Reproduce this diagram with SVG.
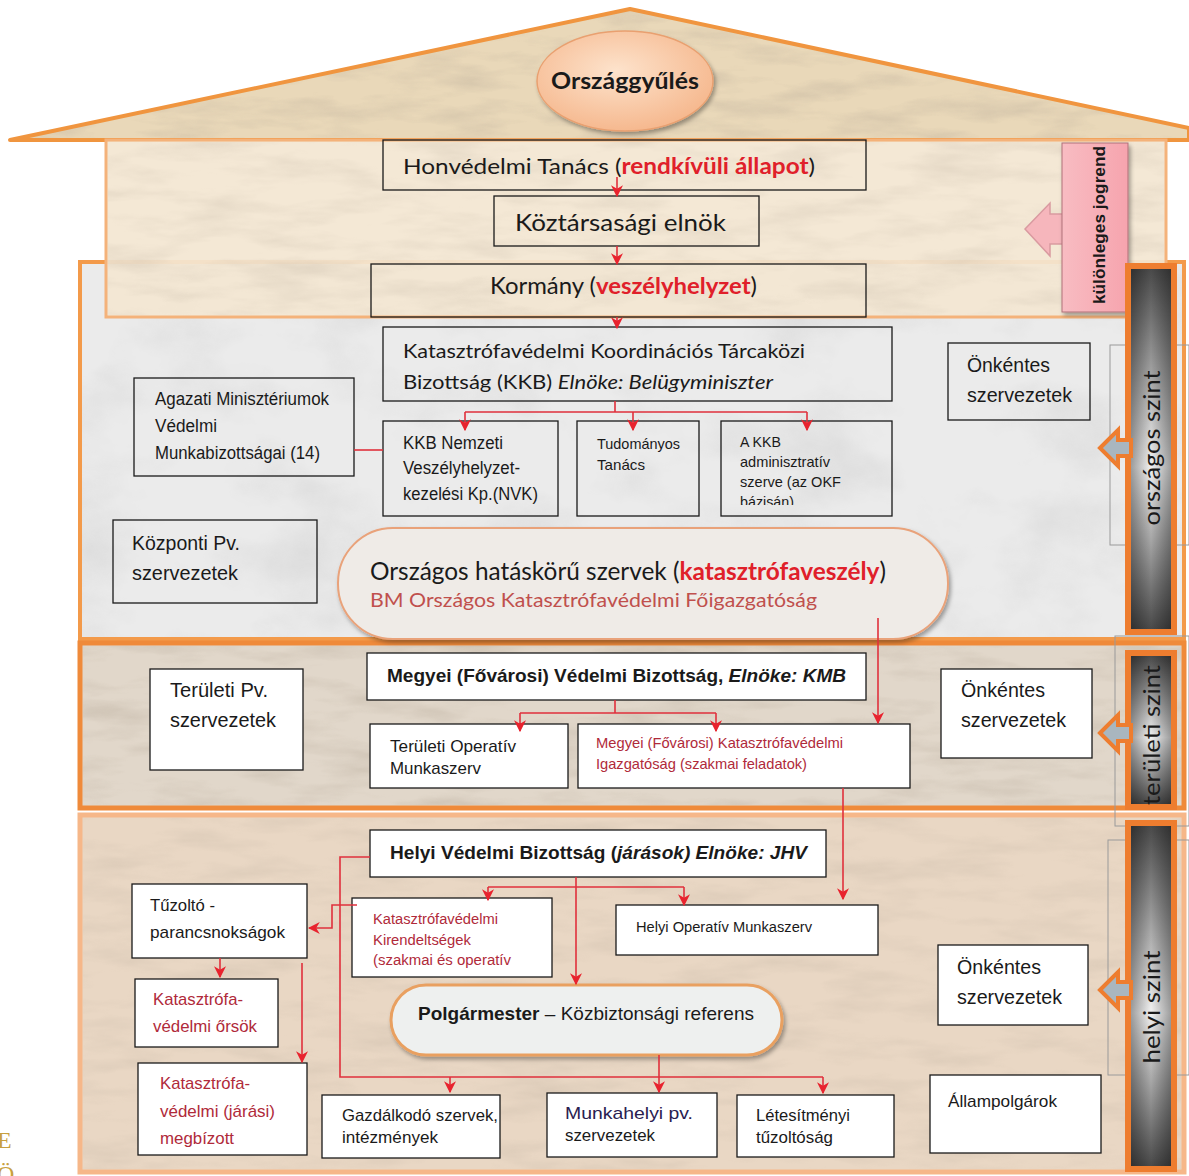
<svg xmlns="http://www.w3.org/2000/svg" width="1189" height="1176" viewBox="0 0 1189 1176">
<defs>
<style>
.bx{stroke:#1a1a1a;stroke-width:1.3;}
.wb{fill:#ffffff;}
.tb{fill:none;}
.cal{font-family:Lato,"Open Sans","Liberation Sans",sans-serif;fill:#1a1a1a;}
.ar{font-family:"Liberation Sans",Arial,sans-serif;fill:#1a1a1a;}
.red{fill:#e0202a;font-weight:bold;}
.dred{fill:#b02a3a;}
.con{fill:none;stroke:#e0303c;stroke-width:1.6;}
.conA{fill:none;stroke:#e0303c;stroke-width:1.6;marker-end:url(#ah);}
.lvl{fill:#a9b6bf;stroke:#ee7d2f;stroke-width:4;stroke-linejoin:miter;}
.thin{fill:none;stroke:#9a9a9a;stroke-width:1;}
</style>
<marker id="ah" viewBox="0 0 10 10" refX="9" refY="5" markerWidth="12" markerHeight="12" markerUnits="userSpaceOnUse" orient="auto">
<path d="M0,0 L10,5 L0,10 L3,5 Z" fill="#e8232e"/>
</marker>
<clipPath id="roofclip"><polygon points="10,140 630,9 1189,128 1189,140"/></clipPath>
<filter id="tex" x="0" y="0" width="1" height="1">
<feTurbulence type="fractalNoise" baseFrequency="0.012 0.05" numOctaves="4" seed="7" result="n"/>
<feColorMatrix in="n" type="matrix" values="0 0 0 0 0.45  0 0 0 0 0.38  0 0 0 0 0.3  1.4 0 0 0 -0.6"/>
</filter>
<filter id="marb" x="0" y="0" width="1" height="1">
<feTurbulence type="fractalNoise" baseFrequency="0.008 0.012" numOctaves="5" seed="3" result="n"/>
<feColorMatrix in="n" type="matrix" values="0 0 0 0 0.5  0 0 0 0 0.5  0 0 0 0 0.5  1.6 0 0 0 -0.75"/>
</filter>
<filter id="sh" x="-5%" y="-5%" width="115%" height="120%">
<feDropShadow dx="2" dy="3" stdDeviation="2" flood-color="#000" flood-opacity="0.35"/>
</filter>
<linearGradient id="bar" x1="0" y1="0" x2="0" y2="1">
<stop offset="0" stop-color="#4a4a4a"/>
<stop offset="0.55" stop-color="#f2f2f2"/>
<stop offset="1" stop-color="#4a4a4a"/>
</linearGradient>
<linearGradient id="barH" x1="0" y1="0" x2="1" y2="0">
<stop offset="0" stop-color="#000" stop-opacity="0.35"/>
<stop offset="0.5" stop-color="#000" stop-opacity="0"/>
<stop offset="1" stop-color="#000" stop-opacity="0.35"/>
</linearGradient>
<linearGradient id="pink" x1="0" y1="0" x2="1" y2="0">
<stop offset="0" stop-color="#f8bcc2"/>
<stop offset="1" stop-color="#f6a4ae"/>
</linearGradient>
<radialGradient id="oval" cx="0.45" cy="0.4" r="0.65">
<stop offset="0" stop-color="#fde3cc"/>
<stop offset="1" stop-color="#f5b58a"/>
</radialGradient>
</defs>

<g id="background">
<polygon points="10,140 630,9 1189,128 1189,140" fill="#e9d8b9"/>
<g clip-path="url(#roofclip)"><rect x="10" y="9" width="1179" height="131" filter="url(#tex)" opacity="0.55"/></g>
<polygon points="10,140 630,9 1189,128 1189,140" fill="none" stroke="#f0953f" stroke-width="4" stroke-linejoin="round"/>
<rect x="80" y="262" width="1104" height="377" fill="#ebebeb" stroke="#f39a4a" stroke-width="4"/>
<rect x="82" y="264" width="1100" height="373" filter="url(#marb)" opacity="0.45"/>
<rect x="106" y="140" width="1060" height="177" fill="#f3e6d2" fill-opacity="0.93" stroke="#f4b27a" stroke-width="3"/>
<rect x="108" y="142" width="1056" height="173" filter="url(#tex)" opacity="0.35"/>
<rect x="80" y="643" width="1104" height="165" fill="#e1d7ca" stroke="#ef8a3a" stroke-width="5"/>
<rect x="83" y="646" width="1098" height="159" filter="url(#tex)" opacity="0.55"/>
<rect x="80" y="815" width="1104" height="357" fill="#e9d7c4" stroke="#f6b789" stroke-width="5"/>
<rect x="83" y="818" width="1098" height="351" filter="url(#tex)" opacity="0.35"/>
<text x="-3" y="1148" font-family="'Liberation Serif',serif" font-size="24" fill="#c8a040">E</text>
<text x="-3" y="1182" font-family="'Liberation Serif',serif" font-size="24" fill="#c8a040">Ö</text>
</g>

<g id="n-orszaggyules">
<ellipse cx="625" cy="81" rx="88" ry="50" fill="url(#oval)" stroke="#e9a070" stroke-width="1.5" filter="url(#sh)"/>
<text x="625" y="89" text-anchor="middle" class="cal" font-size="23" font-weight="bold" textLength="148" lengthAdjust="spacingAndGlyphs">Országgyűlés</text>
</g>

<g id="n-kulonleges">
<polygon points="1025,229 1050,203 1050,214 1063,214 1063,244 1050,244 1050,256" fill="#f6b6bc" stroke="#d99aa0" stroke-width="1.5"/>
<rect x="1062" y="143" width="66" height="169" fill="url(#pink)" stroke="#b07078" stroke-width="1" filter="url(#sh)"/>
<text transform="translate(1105,225) rotate(-90)" text-anchor="middle" class="ar" font-size="17" font-weight="bold" textLength="158" lengthAdjust="spacingAndGlyphs">különleges jogrend</text>
</g>

<g id="n-orszagos-szint">
<rect x="1110" y="345" width="79" height="200" class="thin"/>
<rect x="1125" y="263" width="52" height="372" fill="#ee7d2f"/>
<rect x="1131" y="269" width="40" height="360" fill="url(#bar)"/>
<rect x="1131" y="269" width="40" height="360" fill="url(#barH)"/>
<polygon points="1100,448 1118,430 1118,440 1131,440 1131,456 1118,456 1118,466" class="lvl"/>
<text transform="translate(1160,448) rotate(-90)" text-anchor="middle" class="cal" font-size="23" textLength="155" lengthAdjust="spacingAndGlyphs">országos szint</text>
</g>

<g id="n-teruleti-szint">
<rect x="1115" y="636" width="74" height="190" class="thin"/>
<rect x="1125" y="650" width="52" height="160" fill="#ee7d2f"/>
<rect x="1131" y="656" width="40" height="148" fill="url(#bar)"/>
<rect x="1131" y="656" width="40" height="148" fill="url(#barH)"/>
<polygon points="1100,733 1118,715 1118,725 1131,725 1131,741 1118,741 1118,751" class="lvl"/>
<text transform="translate(1160,735) rotate(-90)" text-anchor="middle" class="cal" font-size="23" textLength="140" lengthAdjust="spacingAndGlyphs">területi szint</text>
</g>

<g id="n-helyi-szint">
<rect x="1108" y="840" width="81" height="235" class="thin"/>
<rect x="1125" y="820" width="52" height="352" fill="#ee7d2f"/>
<rect x="1131" y="826" width="40" height="340" fill="url(#bar)"/>
<rect x="1131" y="826" width="40" height="340" fill="url(#barH)"/>
<polygon points="1100,990 1118,972 1118,982 1131,982 1131,998 1118,998 1118,1008" class="lvl"/>
<text transform="translate(1160,1007) rotate(-90)" text-anchor="middle" class="cal" font-size="23" textLength="113" lengthAdjust="spacingAndGlyphs">helyi szint</text>
</g>

<g id="n-honvedelmi">
<rect x="383" y="140" width="483" height="50" class="bx tb"/>
<text x="403" y="174" class="cal" font-size="22" textLength="412" lengthAdjust="spacingAndGlyphs">Honvédelmi Tanács (<tspan class="red">rendkívüli állapot</tspan>)</text>
</g>
<g id="n-koztarsasagi">
<rect x="494" y="196" width="265" height="50" class="bx tb"/>
<text x="515" y="231" class="cal" font-size="23" textLength="211" lengthAdjust="spacingAndGlyphs">Köztársasági elnök</text>
</g>
<g id="n-kormany">
<rect x="371" y="264" width="495" height="53" class="bx tb"/>
<text x="490" y="294" class="cal" font-size="23" textLength="267" lengthAdjust="spacingAndGlyphs">Kormány (<tspan class="red">veszélyhelyzet</tspan>)</text>
</g>
<g id="n-kkb">
<rect x="383" y="327" width="509" height="74" class="bx tb"/>
<text x="403" y="358" class="cal" font-size="20" textLength="402" lengthAdjust="spacingAndGlyphs">Katasztrófavédelmi Koordinációs Tárcaközi</text>
<text x="403" y="389" class="cal" font-size="20" textLength="370" lengthAdjust="spacingAndGlyphs">Bizottság (KKB) <tspan font-style="italic">Elnöke: Belügyminiszter</tspan></text>
</g>
<g id="n-agazati">
<rect x="134" y="378" width="220" height="98" class="bx tb"/>
<text x="155" y="405" class="ar" font-size="18" textLength="174" lengthAdjust="spacingAndGlyphs">Agazati Minisztériumok</text>
<text x="155" y="432" class="ar" font-size="18" textLength="62" lengthAdjust="spacingAndGlyphs">Védelmi</text>
<text x="155" y="459" class="ar" font-size="18" textLength="165" lengthAdjust="spacingAndGlyphs">Munkabizottságai (14)</text>
</g>
<g id="n-nvk">
<rect x="383" y="421" width="175" height="95" class="bx tb"/>
<text x="403" y="449" class="ar" font-size="18" textLength="100" lengthAdjust="spacingAndGlyphs">KKB Nemzeti</text>
<text x="403" y="474" class="ar" font-size="18" textLength="117" lengthAdjust="spacingAndGlyphs">Veszélyhelyzet-</text>
<text x="403" y="500" class="ar" font-size="18" textLength="135" lengthAdjust="spacingAndGlyphs">kezelési Kp.(NVK)</text>
</g>
<g id="n-tudomanyos">
<rect x="577" y="421" width="122" height="95" class="bx tb"/>
<text x="597" y="449" class="ar" font-size="15" textLength="83" lengthAdjust="spacingAndGlyphs">Tudományos</text>
<text x="597" y="470" class="ar" font-size="15" textLength="48" lengthAdjust="spacingAndGlyphs">Tanács</text>
</g>
<g id="n-adminisztrativ">
<rect x="721" y="421" width="171" height="95" class="bx tb"/>
<text x="740" y="447" class="ar" font-size="15" textLength="41" lengthAdjust="spacingAndGlyphs">A KKB</text>
<text x="740" y="467" class="ar" font-size="15" textLength="90" lengthAdjust="spacingAndGlyphs">adminisztratív</text>
<text x="740" y="487" class="ar" font-size="15" textLength="101" lengthAdjust="spacingAndGlyphs">szerve (az OKF</text>
<svg x="721" y="421" width="171" height="84" overflow="hidden"><text x="19" y="86" class="ar" font-size="15" textLength="54" lengthAdjust="spacingAndGlyphs">bázisán)</text></svg>
</g>
<g id="n-onkentes1">
<rect x="948" y="343" width="142" height="77" class="bx tb"/>
<text x="967" y="372" class="ar" font-size="20" textLength="83" lengthAdjust="spacingAndGlyphs">Önkéntes</text>
<text x="967" y="402" class="ar" font-size="20" textLength="105" lengthAdjust="spacingAndGlyphs">szervezetek</text>
</g>
<g id="n-kozponti">
<rect x="113" y="520" width="204" height="83" class="bx tb"/>
<text x="132" y="550" class="ar" font-size="20" textLength="108" lengthAdjust="spacingAndGlyphs">Központi Pv.</text>
<text x="132" y="580" class="ar" font-size="20" textLength="106" lengthAdjust="spacingAndGlyphs">szervezetek</text>
</g>
<g id="n-orszagos-hataskoru">
<rect x="338" y="528" width="610" height="111" rx="55" fill="#efebe7" stroke="#e9a27a" stroke-width="2" filter="url(#sh)"/>
<text x="370" y="580" class="cal" font-size="25" textLength="516" lengthAdjust="spacingAndGlyphs">Országos hatáskörű szervek (<tspan class="red">katasztrófaveszély</tspan>)</text>
<text x="370" y="607" class="cal" font-size="20" style="fill:#c0504d" textLength="447" lengthAdjust="spacingAndGlyphs">BM Országos Katasztrófavédelmi Főigazgatóság</text>
</g>

<g id="n-megyei-vb">
<rect x="367" y="653" width="499" height="47" class="bx wb"/>
<text x="387" y="682" class="ar" font-size="19" font-weight="bold" textLength="459" lengthAdjust="spacingAndGlyphs">Megyei (Fővárosi) Védelmi Bizottság, <tspan font-style="italic">Elnöke: KMB</tspan></text>
</g>
<g id="n-teruleti-pv">
<rect x="150" y="669" width="153" height="101" class="bx wb"/>
<text x="170" y="697" class="ar" font-size="20" textLength="98" lengthAdjust="spacingAndGlyphs">Területi Pv.</text>
<text x="170" y="727" class="ar" font-size="20" textLength="106" lengthAdjust="spacingAndGlyphs">szervezetek</text>
</g>
<g id="n-teruleti-operativ">
<rect x="370" y="724" width="198" height="64" class="bx wb"/>
<text x="390" y="752" class="ar" font-size="17" textLength="126" lengthAdjust="spacingAndGlyphs">Területi Operatív</text>
<text x="390" y="774" class="ar" font-size="17" textLength="91" lengthAdjust="spacingAndGlyphs">Munkaszerv</text>
</g>
<g id="n-megyei-ki">
<rect x="578" y="724" width="332" height="64" class="bx wb"/>
<text x="596" y="748" class="ar dred" font-size="14.5" textLength="247" lengthAdjust="spacingAndGlyphs">Megyei (Fővárosi) Katasztrófavédelmi</text>
<text x="596" y="769" class="ar dred" font-size="14.5" textLength="211" lengthAdjust="spacingAndGlyphs">Igazgatóság (szakmai feladatok)</text>
</g>
<g id="n-onkentes2">
<rect x="941" y="669" width="151" height="89" class="bx wb"/>
<text x="961" y="697" class="ar" font-size="20" textLength="84" lengthAdjust="spacingAndGlyphs">Önkéntes</text>
<text x="961" y="727" class="ar" font-size="20" textLength="105" lengthAdjust="spacingAndGlyphs">szervezetek</text>
</g>

<g id="n-helyi-vb">
<rect x="370" y="830" width="456" height="47" class="bx wb"/>
<text x="390" y="859" class="ar" font-size="19" font-weight="bold" textLength="417" lengthAdjust="spacingAndGlyphs">Helyi Védelmi Bizottság (<tspan font-style="italic">járások) Elnöke: JHV</tspan></text>
</g>
<g id="n-tuzolto">
<rect x="132" y="884" width="175" height="74" class="bx wb"/>
<text x="150" y="911" class="ar" font-size="17" textLength="65" lengthAdjust="spacingAndGlyphs">Tűzoltó -</text>
<text x="150" y="938" class="ar" font-size="17" textLength="135" lengthAdjust="spacingAndGlyphs">parancsnokságok</text>
</g>
<g id="n-kirendeltsegek">
<rect x="352" y="898" width="200" height="79" class="bx wb"/>
<text x="373" y="924" class="ar dred" font-size="14" textLength="125" lengthAdjust="spacingAndGlyphs">Katasztrófavédelmi</text>
<text x="373" y="945" class="ar dred" font-size="14" textLength="98" lengthAdjust="spacingAndGlyphs">Kirendeltségek</text>
<text x="373" y="965" class="ar dred" font-size="14" textLength="138" lengthAdjust="spacingAndGlyphs">(szakmai és operatív</text>
</g>
<g id="n-helyi-operativ">
<rect x="616" y="905" width="262" height="50" class="bx wb"/>
<text x="636" y="932" class="ar" font-size="14" textLength="176" lengthAdjust="spacingAndGlyphs">Helyi Operatív Munkaszerv</text>
</g>
<g id="n-polgarmester">
<rect x="391" y="985" width="391" height="70" rx="35" fill="#eef0ef" stroke="#e9a060" stroke-width="3" filter="url(#sh)"/>
<text x="418" y="1020" class="ar" font-size="19" textLength="336" lengthAdjust="spacingAndGlyphs"><tspan font-weight="bold">Polgármester</tspan> – Közbiztonsági referens</text>
</g>
<g id="n-orsok">
<rect x="135" y="979" width="143" height="68" class="bx wb"/>
<text x="153" y="1005" class="ar dred" font-size="17" textLength="90" lengthAdjust="spacingAndGlyphs">Katasztrófa-</text>
<text x="153" y="1032" class="ar dred" font-size="17" textLength="104" lengthAdjust="spacingAndGlyphs">védelmi őrsök</text>
</g>
<g id="n-megbizott">
<rect x="138" y="1063" width="169" height="92" class="bx wb"/>
<text x="160" y="1089" class="ar dred" font-size="17" textLength="90" lengthAdjust="spacingAndGlyphs">Katasztrófa-</text>
<text x="160" y="1117" class="ar dred" font-size="17" textLength="115" lengthAdjust="spacingAndGlyphs">védelmi (járási)</text>
<text x="160" y="1144" class="ar dred" font-size="17" textLength="74" lengthAdjust="spacingAndGlyphs">megbízott</text>
</g>
<g id="n-gazdalkodo">
<rect x="322" y="1095" width="178" height="63" class="bx wb"/>
<text x="342" y="1121" class="ar" font-size="17" textLength="156" lengthAdjust="spacingAndGlyphs">Gazdálkodó szervek,</text>
<text x="342" y="1143" class="ar" font-size="17" textLength="96" lengthAdjust="spacingAndGlyphs">intézmények</text>
</g>
<g id="n-munkahelyi">
<rect x="547" y="1093" width="170" height="64" class="bx wb"/>
<text x="565" y="1119" class="ar" font-size="17" style="fill:#2a2050" textLength="128" lengthAdjust="spacingAndGlyphs">Munkahelyi pv.</text>
<text x="565" y="1141" class="ar" font-size="17" textLength="90" lengthAdjust="spacingAndGlyphs">szervezetek</text>
</g>
<g id="n-letesitmenyi">
<rect x="737" y="1095" width="157" height="62" class="bx wb"/>
<text x="756" y="1121" class="ar" font-size="17" textLength="94" lengthAdjust="spacingAndGlyphs">Létesítményi</text>
<text x="756" y="1143" class="ar" font-size="17" textLength="77" lengthAdjust="spacingAndGlyphs">tűzoltóság</text>
</g>
<g id="n-allampolgarok">
<rect x="930" y="1075" width="171" height="78" class="bx wb"/>
<text x="948" y="1107" class="ar" font-size="17" textLength="109" lengthAdjust="spacingAndGlyphs">Állampolgárok</text>
</g>
<g id="n-onkentes3">
<rect x="938" y="945" width="150" height="80" class="bx wb"/>
<text x="957" y="974" class="ar" font-size="20" textLength="84" lengthAdjust="spacingAndGlyphs">Önkéntes</text>
<text x="957" y="1004" class="ar" font-size="20" textLength="105" lengthAdjust="spacingAndGlyphs">szervezetek</text>
</g>

<g id="connectors">
<path d="M617,177 V196" class="conA"/>
<path d="M617,246 V264" class="conA"/>
<path d="M617,317 V328" class="conA"/>
<path d="M615,401 V412 M465,412 H807" class="con"/>
<path d="M465,412 V430" class="conA"/>
<path d="M633,412 V430" class="conA"/>
<path d="M807,412 V430" class="conA"/>
<path d="M354,450 H383" class="con"/>
<path d="M878,618 V723" class="conA"/>
<path d="M615,700 V713 M520,713 H716" class="con"/>
<path d="M520,713 V731" class="conA"/>
<path d="M716,713 V731" class="conA"/>
<path d="M843,788 V899" class="conA"/>
<path d="M370,857 H340 V1077 H823" class="con"/>
<path d="M450,1077 V1092" class="conA"/>
<path d="M659,1055 V1092" class="conA"/>
<path d="M823,1077 V1093" class="conA"/>
<path d="M576,877 V984" class="conA"/>
<path d="M488,887 H684" class="con"/>
<path d="M488,887 V900" class="conA"/>
<path d="M684,887 V905" class="conA"/>
<path d="M357,905 H332 V928 H309" class="conA"/>
<path d="M220,958 V977" class="conA"/>
<path d="M302,963 V1062" class="conA"/>
</g>
</svg>
